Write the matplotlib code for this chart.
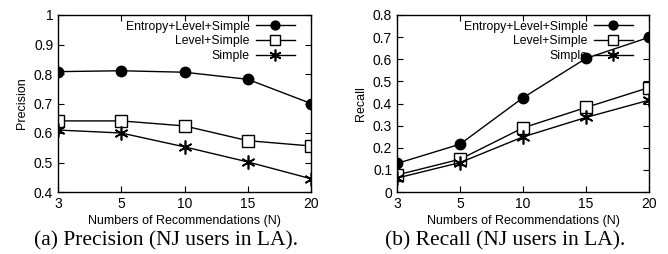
import matplotlib
matplotlib.use("Agg")
import matplotlib.pyplot as plt

plt.rcParams["font.family"] = ["Liberation Sans", "DejaVu Sans"]

N_LABELS = ["3", "5", "10", "15", "20"]
SERIES = ["Entropy+Level+Simple", "Level+Simple", "Simple"]

prec_entropy = [0.808, 0.811, 0.806, 0.782, 0.700]
prec_level = [0.641, 0.641, 0.624, 0.574, 0.556]
prec_simple = [0.610, 0.600, 0.553, 0.502, 0.445]

rec_entropy = [0.129, 0.216, 0.426, 0.604, 0.699]
rec_level = [0.077, 0.148, 0.290, 0.382, 0.472]
rec_simple = [0.063, 0.133, 0.249, 0.337, 0.415]

STYLES = [
    dict(marker="o", markersize=7.5, markerfacecolor="black"),
    dict(marker="s", markersize=8, markerfacecolor="white"),
    dict(marker=(6, 2, 0), markersize=10, markeredgewidth=1.2),
]

fig = plt.figure(figsize=(6.68, 2.54), dpi=100)
ax1 = fig.add_axes([58 / 668, 1 - 192 / 254, 253 / 668, 177 / 254])
ax2 = fig.add_axes([397 / 668, 1 - 192 / 254, 252 / 668, 177 / 254])

x = list(range(len(N_LABELS)))


def draw(ax, data, ylim, yticks, ylabel):
    for name, vals, st in zip(SERIES, data, STYLES):
        ax.plot(x, vals, color="black", lw=1.0, markeredgecolor="black",
                label=name, **st)
    ax.set_xlim(0, len(N_LABELS) - 1)
    ax.set_ylim(*ylim)
    ax.set_xticks(x)
    ax.set_xticklabels(N_LABELS)
    ax.set_yticks(yticks)
    ax.set_yticklabels([("%g" % t) for t in yticks])
    ax.tick_params(direction="in", top=True, right=True, labelsize=10,
                   length=4, width=0.8)
    for s in ax.spines.values():
        s.set_linewidth(1.0)
    ax.set_xlabel("Numbers of Recommendations (N)", fontsize=9, labelpad=3)
    ax.set_ylabel(ylabel, fontsize=9, labelpad=4)
    ax.legend(loc="upper right", bbox_to_anchor=(0.955, 0.995), frameon=False,
              markerfirst=False, fontsize=8.8, handlelength=3.2,
              labelspacing=0.22, borderaxespad=0.2, handletextpad=0.5,
              borderpad=0.2, markerscale=0.85)


draw(ax1, [prec_entropy, prec_level, prec_simple], (0.4, 1.0),
     [0.4, 0.5, 0.6, 0.7, 0.8, 0.9, 1.0], "Precision")
draw(ax2, [rec_entropy, rec_level, rec_simple], (0.0, 0.8),
     [0, 0.1, 0.2, 0.3, 0.4, 0.5, 0.6, 0.7, 0.8], "Recall")

fig.text(166 / 668, 0.035, "(a) Precision (NJ users in LA).", ha="center",
         va="baseline", fontsize=15.5, family="Liberation Serif")
fig.text(505 / 668, 0.035, "(b) Recall (NJ users in LA).", ha="center",
         va="baseline", fontsize=15.5, family="Liberation Serif")

fig.savefig("out.png", dpi=100)
